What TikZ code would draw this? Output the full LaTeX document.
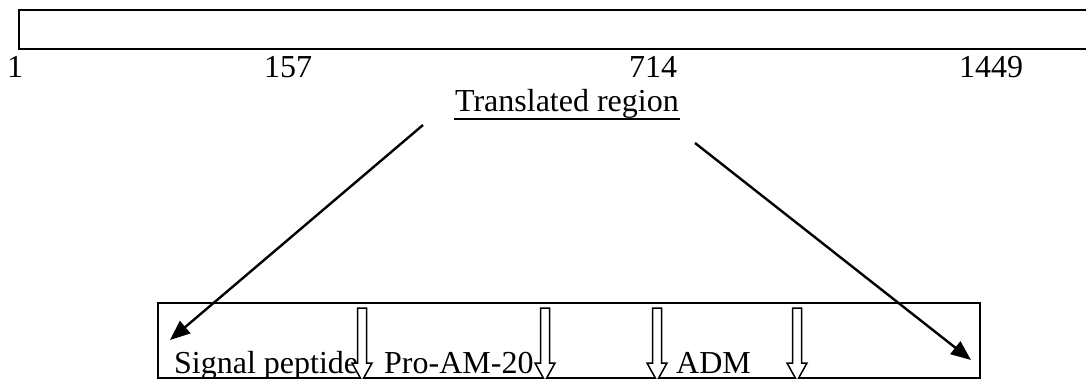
\documentclass[tikz,border=0pt]{standalone}
\usepackage{fontspec}
\setmainfont{Liberation Serif}
\usetikzlibrary{arrows.meta}

\begin{document}
\begin{tikzpicture}[x=0.5pt, y=-0.5pt, line width=1.2pt,
                  >={Triangle[length=10pt, width=8pt]},
                  txt/.style={inner sep=0pt, font=\fontsize{16}{19}\selectfont},
                  cut/.style={fill=white, line width=0.75pt}]
\useasboundingbox (0,0) rectangle (1086,379);

% Barra del transcrito con sus posiciones.
\draw (19,10) rectangle (1092,49);
\node[txt, anchor=base] (n1) at (15,78) {1};
\node[txt, anchor=base] (n157) at (288,78) {157};
\node[txt, anchor=base] (n714) at (653,78) {714};
\node[txt, anchor=base] (n1449) at (991,78) {1449};
\node[txt, anchor=base east] (trans) at (680,112) {Translated region};
\draw[line width=1pt] ([yshift=-3.5pt]trans.base west) -- ([yshift=-3.5pt]trans.base east);

% Barra de la proteína y sus regiones.
\draw (158,303) rectangle (980,378);
\node[txt, anchor=base west] (sig) at (173,373) {Signal peptide};
\node[txt, anchor=base west] (pro) at (383,373) {Pro-AM-20};
\node[txt, anchor=base west] (adm) at (675,373) {ADM};

% Flechas huecas de los sitios de corte.
\foreach \c in {362,545,657,797}
  \draw[cut] (\c-4.5,308) -- (\c+4.5,308) -- (\c+4.5,363) -- (\c+10,363)
             -- (\c,381) -- (\c-10,363) -- (\c-4.5,363) -- cycle;

% Flechas desde la región traducida.
\coordinate (lfrom) at (423,125);
\coordinate (lto) at (170,340);
\coordinate (rfrom) at (695,143);
\coordinate (rto) at (971,360);
\draw[->] (lfrom) -- (lto);
\draw[->] (rfrom) -- (rto);

\end{tikzpicture}
\end{document}
